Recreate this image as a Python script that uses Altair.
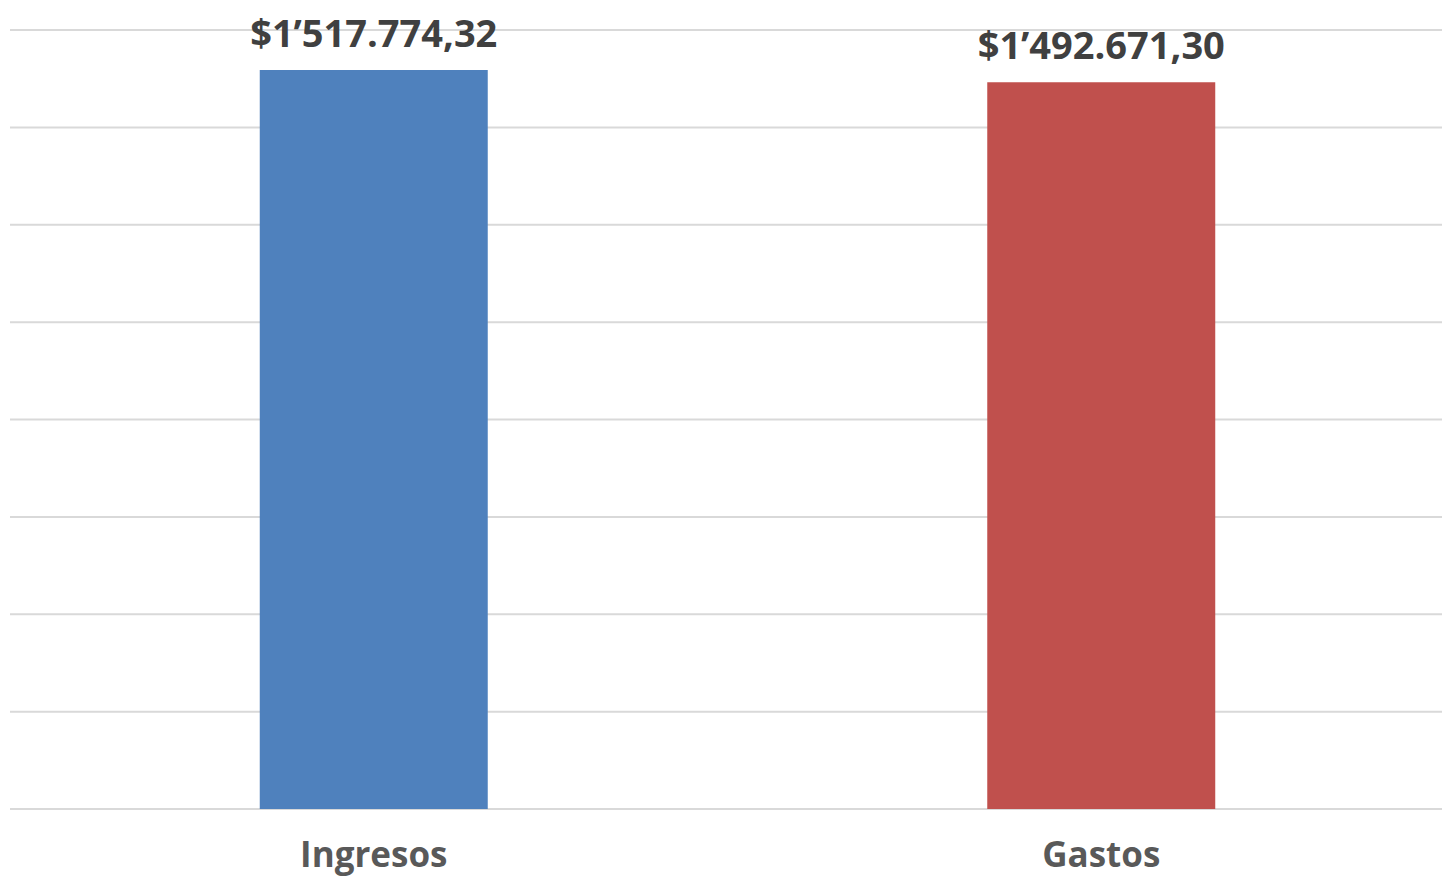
import altair as alt
import pandas as pd

categories = ["Ingresos", "Gastos"]
values = [1517774.32, 1492671.30]
labels = ["$1\u2019517.774,32", "$1\u2019492.671,30"]
colors = ["#4F81BD", "#C0504D"]
grid_values = [0, 200000, 400000, 600000, 800000, 1000000, 1200000, 1400000, 1600000]

df = pd.DataFrame({"cat": categories, "val": values, "label": labels, "color": colors})
gdf = pd.DataFrame({"g": grid_values})

FONT = "Open Sans"

yscale = alt.Scale(domain=[0, 1600000], nice=False)

grid = alt.Chart(gdf).mark_rule(color="#D9D9D9", strokeWidth=2).encode(
    y=alt.Y("g:Q", scale=yscale, title=None,
            axis=alt.Axis(labels=False, ticks=False, domain=False, grid=False)),
)

x = alt.X("cat:N", sort=categories, title=None,
          scale=alt.Scale(range=[0, 1455], paddingInner=0.6866, paddingOuter=0.3433),
          axis=alt.Axis(labelAngle=0, labelFont=FONT, labelFontSize=35, labelFontWeight="bold",
                        labelColor="#595959", labelPadding=29, ticks=False, domain=False,
                        grid=False))

bars = alt.Chart(df).mark_bar().encode(
    x=x, y=alt.Y("val:Q", scale=yscale), color=alt.Color("color:N", scale=None)
)

text = alt.Chart(df).mark_text(
    font=FONT, fontSize=38, fontWeight="bold", color="#404040", baseline="alphabetic", dy=-23
).encode(x=alt.X("cat:N", sort=categories), y=alt.Y("val:Q", scale=yscale), text="label:N")

chart = (grid + bars + text).properties(
    width=1432, height=779,
    autosize=alt.AutoSizeParams(type="none"),
    padding={"left": 2, "top": 22, "right": 0, "bottom": 67},
).configure_view(stroke=None)

chart.save("out.html", embed_options={"renderer": "svg", "actions": False})
